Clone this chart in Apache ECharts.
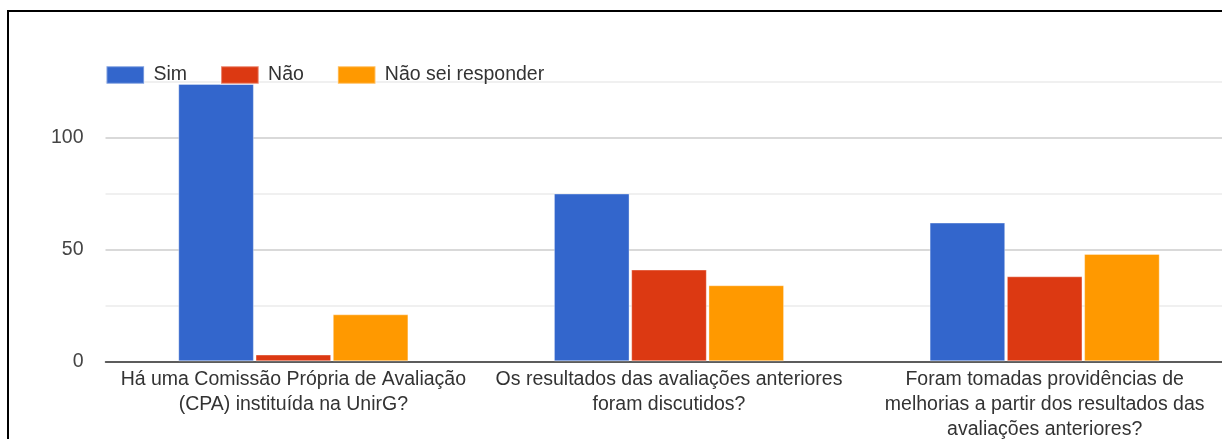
<!DOCTYPE html>
<html>
<head>
<meta charset="utf-8">
<script src="https://cdn.jsdelivr.net/npm/echarts@6/dist/echarts.min.js"></script>
<style>
html,body{margin:0;padding:0;background:#fff;}
#chart{width:1222px;height:439px;position:relative;}
#frame{position:absolute;left:7px;top:10px;right:-10px;bottom:-10px;border-left:2px solid #000;border-top:2px solid #000;pointer-events:none;}
</style>
</head>
<body>
<div style="position:relative;width:1222px;height:439px;overflow:hidden;">
<div id="chart"></div>
<div id="frame"></div>
</div>
<script>
const categories = [
  'Há uma Comissão Própria de Avaliação\n(CPA) instituída na UnirG?',
  'Os resultados das avaliações anteriores\nforam discutidos?',
  'Foram tomadas providências de\nmelhorias a partir dos resultados das\navaliações anteriores?'
];
const seriesNames = ['Sim', 'Não', 'Não sei responder'];
const simValues = [124, 75, 62];
const naoValues = [3, 41, 38];
const naoSeiValues = [21, 34, 48];
const colors = ['#3366cc', '#dc3912', '#ff9900'];

const chart = echarts.init(document.getElementById('chart'), null, {renderer: 'canvas'});
const font = 'Arial, "Liberation Sans", sans-serif';
const dataSets = [simValues, naoValues, naoSeiValues];

chart.setOption({
  animation: false,
  color: colors,
  textStyle: {fontFamily: font},
  legend: {
    left: 105.5,
    top: 65,
    padding: 0,
    itemWidth: 37.6,
    itemHeight: 17.4,
    itemGap: 33,
    icon: 'rect',
    textStyle: {fontSize: 19.5, color: '#333', fontFamily: font, padding: [0, 0, 0, 4.4]},
    data: seriesNames
  },
  grid: {left: 105.5, top: 81.7, width: 1127, height: 279.6, containLabel: false, outerBoundsMode: 'none'},
  xAxis: {
    type: 'category',
    data: categories,
    axisTick: {show: false},
    axisLine: {lineStyle: {color: '#333', width: 1.5}},
    axisLabel: {fontSize: 19.5, color: '#333', lineHeight: 25, margin: 6, interval: 0, fontFamily: font}
  },
  yAxis: {
    type: 'value',
    min: 0,
    max: 125,
    interval: 25,
    axisLine: {show: false},
    axisTick: {show: false},
    axisLabel: {
      fontSize: 19.5, color: '#444', margin: 22, fontFamily: font,
      formatter: v => (v % 50 === 0 ? String(v) : '')
    },
    splitLine: {lineStyle: {color: ['#cccccc', '#ebebeb'], width: 1.5}}
  },
  series: seriesNames.map((name, i) => ({
    name: name,
    type: 'bar',
    data: dataSets[i],
    barWidth: 75.6,
    barGap: '2.2%',
    itemStyle: {color: colors[i], borderColor: 'rgba(255,255,255,0.35)', borderWidth: 1}
  }))
});
</script>
</body>
</html>
